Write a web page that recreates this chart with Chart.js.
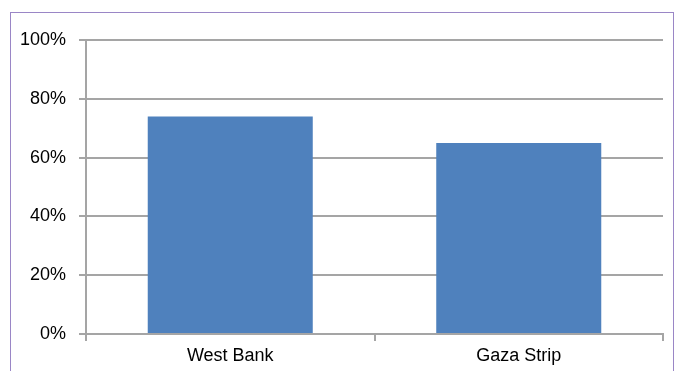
<!DOCTYPE html>
<html>
<head>
<meta charset="utf-8">
<script src="https://cdn.jsdelivr.net/npm/chart.js@4/dist/chart.umd.min.js"></script>
<style>
  html, body { margin: 0; padding: 0; background: #fff; }
  #wrap { position: relative; width: 679px; height: 371px; overflow: hidden; }
  #marco { position: absolute; left: 10px; top: 12px; width: 664px; height: 400px; border: 1px solid #9A86C6; box-sizing: border-box; }
  #grafica { position: absolute; left: 0; top: 0; }
</style>
</head>
<body>
<div id="wrap">
  <div id="marco"></div>
  <canvas id="grafica" width="679" height="371"></canvas>
</div>
<script>
// Porcentaje por región
const regiones = ['West Bank', 'Gaza Strip'];
const porcentajes = [74, 65];
const marcasEje = [0, 20, 40, 60, 80, 100];

const gris = '#A5A5A5';

const ctx = document.getElementById('grafica').getContext('2d');
new Chart(ctx, {
    type: 'bar',
    data: {
        labels: regiones,
        datasets: [{
            data: porcentajes,
            backgroundColor: '#4F81BD',
            borderWidth: 0,
            barPercentage: 0.572,
            categoryPercentage: 1
        }]
    },
    options: {
        responsive: false,
        animation: false,
        layout: {
            padding: { top: 40, right: 16, left: 0, bottom: 0 }
        },
        plugins: {
            legend: { display: false },
            tooltip: { enabled: false }
        },
        scales: {
            x: {
                grid: {
                    offset: true,
                    drawOnChartArea: false,
                    drawTicks: true,
                    tickLength: 7,
                    color: gris,
                    lineWidth: 2
                },
                border: { color: gris, width: 2 },
                ticks: {
                    color: '#000',
                    padding: 4,
                    font: { family: 'Liberation Sans, Arial', size: 18 }
                },
                afterFit: function (scale) { scale.height = 37; }
            },
            y: {
                min: 0,
                max: 100,
                afterBuildTicks: function (scale) {
                    scale.ticks = marcasEje.map(v => ({ value: v }));
                },
                grid: {
                    color: gris,
                    lineWidth: 2,
                    drawTicks: true,
                    tickLength: 7
                },
                border: { color: gris, width: 2 },
                ticks: {
                    color: '#000',
                    padding: 13,
                    font: { family: 'Liberation Sans, Arial', size: 18 },
                    callback: function (v) { return v + '%'; }
                },
                afterFit: function (scale) { scale.width = 86; }
            }
        }
    }
});
</script>
</body>
</html>
